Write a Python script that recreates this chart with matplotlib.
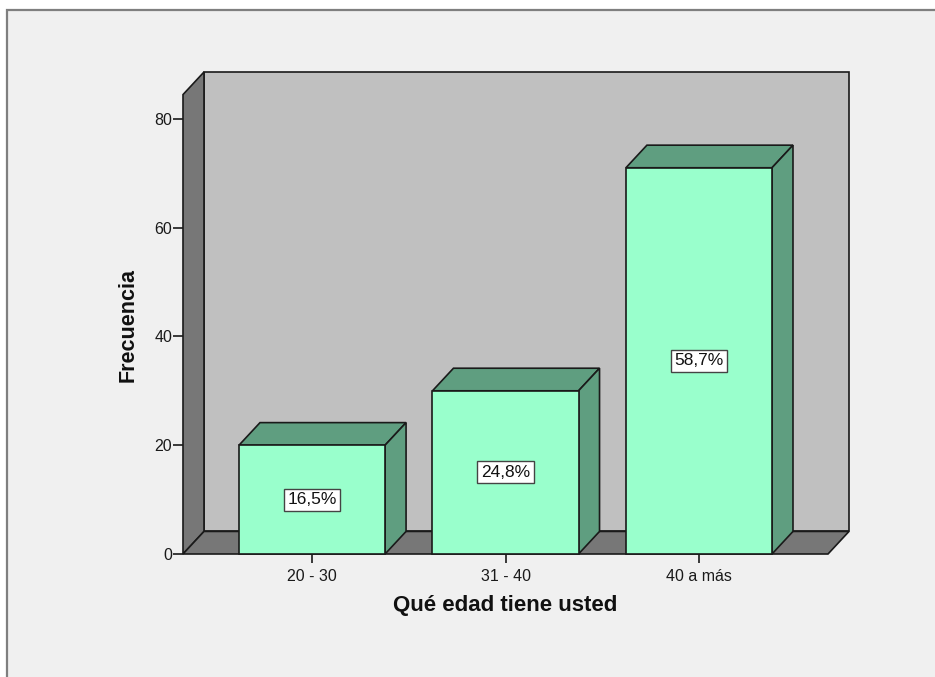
import matplotlib
matplotlib.use("Agg")
import matplotlib.pyplot as plt
from matplotlib.patches import Rectangle, Polygon

# Age groups and their frequencies
categories = ["20 - 30", "31 - 40", "40 a más"]
counts = [20, 30, 71]
y_ticks = [0, 20, 40, 60, 80]
x_title = "Qué edad tiene usted"
y_title = "Frecuencia"

total = sum(counts)
percents = [c / total * 100 for c in counts]

plt.rcParams["font.family"] = ["Liberation Sans", "DejaVu Sans"]

W, H = 935, 677
fig = plt.figure(figsize=(W / 100, H / 100), dpi=100)
fig.patch.set_facecolor("white")

# Framed panel background
fig.patches.append(Rectangle((7 / W, -0.1), 1.2, 1.1 - 10 / H,
                             transform=fig.transFigure, facecolor="#f0f0f0",
                             edgecolor="#7f7f7f", linewidth=1.6, zorder=-5))

# 3D-like depth offsets (data units)
dx, dy = 0.1085, 4.15
x0, x1 = -0.667, 2.667
wall_top = 84.45
bar_w = 0.755

ax = fig.add_axes([183 / W, (H - 554) / H, (849 - 183) / W, (554 - 72) / H])
ax.set_zorder(2)
ax.set_xlim(x0, x1 + dx)
ax.set_ylim(0, wall_top + dy)
ax.patch.set_visible(False)
for s in ax.spines.values():
    s.set_visible(False)

edge = dict(edgecolor="#1a1a1a", linewidth=1.2, joinstyle="miter", clip_on=False)

# Back wall, side wall and floor
ax.add_patch(Rectangle((x0 + dx, dy), x1 - x0, wall_top, facecolor="#c0c0c0", **edge))
ax.add_patch(Polygon([(x0, 0), (x0, wall_top), (x0 + dx, wall_top + dy), (x0 + dx, dy)],
                     closed=True, facecolor="#777777", **edge))
ax.add_patch(Polygon([(x0, 0), (x0 + dx, dy), (x1 + dx, dy), (x1, 0)],
                     closed=True, facecolor="#777777", **edge))

front_c = "#99ffcc"
shade_c = "#5f9e80"
for i, (c, p) in enumerate(zip(counts, percents)):
    l, r = i - bar_w / 2, i + bar_w / 2
    ax.add_patch(Polygon([(l, c), (l + dx, c + dy), (r + dx, c + dy), (r, c)],
                         closed=True, facecolor=shade_c, zorder=3, **edge))
    ax.add_patch(Polygon([(r, 0), (r, c), (r + dx, c + dy), (r + dx, dy)],
                         closed=True, facecolor=shade_c, zorder=3, **edge))
    ax.add_patch(Rectangle((l, 0), bar_w, c, facecolor=front_c, zorder=4, **edge))
    ax.text(i, c / 2, f"{p:.1f}%".replace(".", ","), ha="center", va="center",
            fontsize=12.5, color="#111111", zorder=5,
            bbox=dict(boxstyle="square,pad=0.2", facecolor="white",
                      edgecolor="#444444", linewidth=1.0))

ax.set_yticks(y_ticks)
ax.set_xticks(range(len(categories)))
ax.set_xticklabels(categories)
ax.tick_params(axis="y", length=7.2, width=1.2, pad=0.5, labelsize=11.5,
               colors="#1a1a1a")
ax.tick_params(axis="x", length=6.5, width=1.2, pad=4, labelsize=11.5,
               colors="#1a1a1a")
ax.xaxis.set_ticks_position("bottom")
ax.yaxis.set_ticks_position("left")

fig.text(128 / W, 1 - 325 / H, y_title, rotation=90, ha="center", va="center",
         fontsize=15.5, fontweight="bold", color="#111111")
fig.text(505 / W, 1 - 606 / H, x_title, ha="center", va="center",
         fontsize=16, fontweight="bold", color="#111111")

fig.savefig("out.png", dpi=100, facecolor=fig.get_facecolor())
